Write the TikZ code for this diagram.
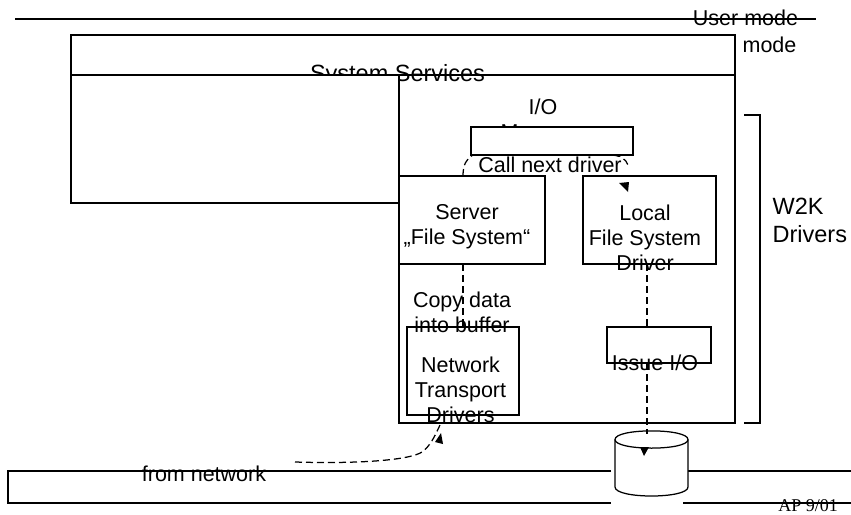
\documentclass[tikz,border=0pt]{standalone}
\usepackage{fontspec}
\setmainfont{Liberation Sans}
\newfontfamily\serifnote{Liberation Serif}
\usetikzlibrary{positioning}
\tikzset{
  label text/.style={font=\fontsize{21.5}{25}\selectfont, align=center, inner sep=0pt},
  large text/.style={font=\fontsize{23.5}{28}\selectfont, inner sep=0pt},
  plain box/.style={draw, fill=white, inner sep=0pt, outer sep=0pt},
  flow/.style={dashed, dash pattern=on 7pt off 4pt},
  flow tip/.style={fill=black, draw=none}
}

\begin{document}
\begin{tikzpicture}[x=1pt, y=-1pt, line width=1.25pt]
      \useasboundingbox (0,0) rectangle (851,514);
      % Define nodes
      \node[plain box, fill=none, minimum width=664pt, minimum height=40pt] (services) at (403,55) {};
      \node[plain box, fill=none, minimum width=336pt, minimum height=348pt] (kernel) at (567,249) {};
      \node[large text] (servicestext) at (397.5,75) {System Services};
      \node[plain box, minimum width=328pt, minimum height=128pt] (leftbox) at (235,139) {};
      \node[label text] (usermode) at (745.5,18) {User mode};
      \node[label text, anchor=east] (kernelmode) at (797,45) {mode};
      \node[large text, align=left, anchor=west] (w2k) at (772,220.5) {W2K\\Drivers};
      \coordinate (topleft) at (15,19);
      \coordinate (topright) at (816,19);

      \node[plain box, minimum width=146pt, minimum height=88pt] (server) at (472,220) {};
      \node[plain box, minimum width=133pt, minimum height=88pt, right=38pt of server] (localfs) {};
      \node[plain box, minimum width=112pt, minimum height=88pt, below=63pt of server, xshift=-9pt] (transport) {};
      \node[plain box, minimum width=104pt, minimum height=36pt, below=63pt of localfs, xshift=9.5pt] (issue) {};

      \node[label text] (servertext) at (467,227) {Server\\„File System“};
      \node[label text] (localtext) at (645,237.5) {Local\\File System\\Driver};
      \node[label text] (transporttext) at (460.5,389.5) {Network\\Transport\\Drivers};
      \node[label text] (copytext) at (462,312) {Copy data\\into buffer};
      \node[label text] (issuetext) at (655,363) {Issue I/O};

      % Edges between the drivers
      \coordinate (callstart) at (server.north -| transport.north);
      \coordinate (callend) at (628,165);
      \coordinate (localout) at (647,264);
      \coordinate (issuein) at (647,327);
      \coordinate (issueout) at (647,363);
      \coordinate (diskin) at (647,434);
      \coordinate (netstart) at (295,462);
      \coordinate (netend) at (440,425);

      \draw[flow] (callstart) .. controls (463,165) and (466,159) .. (473,155) -- (610,155) .. controls (620,155) and (626,159) .. (callend);
      \node[label text, fill=white] (calltext) at (550,165) {Call next driver};
      \node[label text] (iotext) at (543,121) {I/O\\Manager};
      \node[plain box, minimum width=162pt, minimum height=28pt] (iomgr) at (552,141) {};
      \draw[flow] (server.south -| transport.north) -- (transport.north);
      \draw[flow] (localout) -- (issuein);
      \draw[flow] (netstart) .. controls (360,464) and (410,460) .. (422,452) .. controls (430,446) and (434,438) .. (netend);

      % Bracket and network bar
      \draw (744,115) -- (760,115) -- (760,423) -- (744,423);
      \draw (topleft) -- (topright);
      \draw (611,471) -- (8,471) -- (8,503) -- (611,503);
      \draw (683,471) -- (851,471);
      \draw (683,503) -- (851,503);

      % Disk
      \coordinate (diskleft) at (615,439.5);
      \coordinate (diskright) at (688,439.5);
      \draw[fill=white] (diskleft) .. controls (615,428) and (688,428) .. (diskright) -- (688,487) .. controls (688,499) and (615,499) .. (615,487) -- cycle;
      \draw (diskleft) .. controls (615,451) and (688,451) .. (diskright);
      \draw[flow] (issueout) -- (diskin);

      \node[label text] (networktext) at (204,474) {from network};
      \node[font=\serifnote\fontsize{18}{20}\selectfont, inner sep=0pt] (apnote) at (808,506) {AP 9/01};

      % Arrow heads
      \fill[flow tip] (619,183) -- (629,182) -- (628,192) -- cycle;
      \fill[flow tip] (640,447) -- (649,447) -- (644,456) -- cycle;
      \fill[flow tip] (441,433) -- (435,442) -- (443,444) -- cycle;
    \end{tikzpicture}
\end{document}
